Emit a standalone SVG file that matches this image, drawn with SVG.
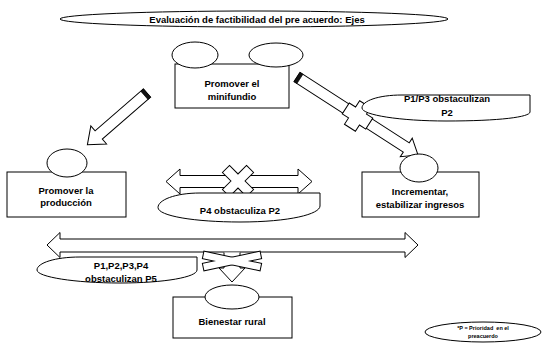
<svg xmlns="http://www.w3.org/2000/svg" width="544" height="344" viewBox="0 0 544 344">
<style>
.s{fill:#fff;stroke:#000;stroke-width:1}
.f{fill:#fff;stroke:none}
.t{font-family:"Liberation Sans",Arial,sans-serif;font-weight:bold;font-size:9.5px;text-anchor:middle;fill:#000}
.sm{font-size:5.5px}
.cap{fill:#111;stroke:#000;stroke-width:0.6}
</style>
<rect width="544" height="344" fill="#fff"/>

<g id="title">
<ellipse class="s" cx="254" cy="19" rx="194" ry="8"/>
<text class="t" x="257" y="22.5">Evaluación de factibilidad del pre acuerdo: Ejes</text>
</g>

<g id="connectors">
<!-- minifundio -> produccion -->
<g transform="translate(147,93) rotate(139)">
<polygon class="s" points="0,-5.5 64,-5.5 64,-12 79,0 64,12 64,5.5 0,5.5"/>
<rect class="cap" x="0" y="-5.5" width="3.5" height="11"/>
</g>
<!-- minifundio -> ingresos, with cross -->
<g transform="translate(297,77) rotate(32.8)">
<polygon class="s" points="0,-5.5 130,-5.5 130,-11 144,0 130,11 130,5.5 0,5.5"/>
<rect class="cap" x="0" y="-5.5" width="3.5" height="11"/>
<polygon class="s" points="65.5,-14 78.5,-14 78.5,-6.5 86,-6.5 86,6.5 78.5,6.5 78.5,14 65.5,14 65.5,6.5 58,6.5 58,-6.5 65.5,-6.5"/>
</g>
<!-- produccion <-> ingresos -->
<polygon class="s" points="166,181.5 180,169 180,175.5 298,175.5 298,169 312,181.5 298,194 298,187.5 180,187.5 180,194"/>
<polygon class="s" transform="translate(238,181) rotate(45)" points="-5,-17 5,-17 5,-5 17,-5 17,5 5,5 5,17 -5,17 -5,5 -17,5 -17,-5 -5,-5"/>
<!-- big double arrow -->
<polygon class="s" points="47,245 60,232.5 60,239 405,239 405,232.5 418,245 405,257.5 405,252 60,252 60,257.5"/>
<!-- down arrow to bienestar -->
<path class="s" d="M224,252.5 V268 H219 L232,282 L245,268 H240 V252.5"/>
<g transform="translate(232,261)">
<rect class="s" style="stroke-width:2" x="-29" y="-3.25" width="58" height="6.5" transform="rotate(12)"/>
<rect class="s" style="stroke-width:2" x="-29" y="-3.25" width="58" height="6.5" transform="rotate(-12)"/>
<rect class="f" x="-29" y="-3.25" width="58" height="6.5" transform="rotate(12)"/>
<rect class="f" x="-29" y="-3.25" width="58" height="6.5" transform="rotate(-12)"/>
</g>
</g>

<g id="minifundio">
<rect class="s" x="175" y="64" width="114" height="44"/>
<ellipse class="s" cx="195" cy="55" rx="23" ry="13"/>
<ellipse class="s" cx="276" cy="55" rx="27" ry="12"/>
<text class="t" x="232" y="87">Promover el</text>
<text class="t" x="232" y="99.5">minifundio</text>
</g>

<g id="produccion">
<rect class="s" x="7" y="172" width="119" height="45"/>
<ellipse class="s" cx="67" cy="163" rx="20" ry="14"/>
<text class="t" x="66" y="193.5">Promover la</text>
<text class="t" x="66" y="206">producción</text>
</g>

<g id="ingresos">
<rect class="s" x="362" y="172" width="117" height="45"/>
<ellipse class="s" cx="419" cy="168" rx="19" ry="14"/>
<text class="t" x="420" y="195">Incrementar,</text>
<text class="t" x="420" y="207.5">estabilizar ingresos</text>
</g>

<g id="bienestar">
<rect class="s" x="173" y="297" width="119" height="41"/>
<ellipse class="s" cx="232" cy="297" rx="27" ry="12"/>
<text class="t" x="232" y="325">Bienestar rural</text>
</g>

<g id="nota-p1p3">
<path class="s" d="M362,108 C362,101 378,95 402,95 H530 V112 C530,117 500,121 446,121 C400,121 362,115 362,108 Z"/>
<text class="t" x="447" y="102">P1/P3 obstaculizan</text>
<text class="t" x="447" y="116">P2</text>
</g>

<g id="nota-p4">
<path class="s" d="M158,207.5 C158,200 175,193 200,193 H320 V206 C320,214 290,222 240,222 C195,222 158,216 158,207.5 Z"/>
<text class="t" x="240" y="214">P4 obstaculiza P2</text>
</g>

<g id="nota-p5">
<path class="s" d="M37,270 C37,263 55,257 80,257 H197 V270 C197,277 165,283 120,283 C75,283 37,277 37,270 Z"/>
<text class="t" x="121" y="268.5">P1,P2,P3,P4</text>
<text class="t" x="121" y="281.5">obstaculizan P5</text>
</g>

<g id="nota-p">
<ellipse class="s" cx="483" cy="332" rx="58" ry="10"/>
<text class="t sm" x="483" y="329.5" style="white-space:pre">*P = Prioridad  en el</text>
<text class="t sm" x="483" y="338">preacuerdo</text>
</g>
</svg>
